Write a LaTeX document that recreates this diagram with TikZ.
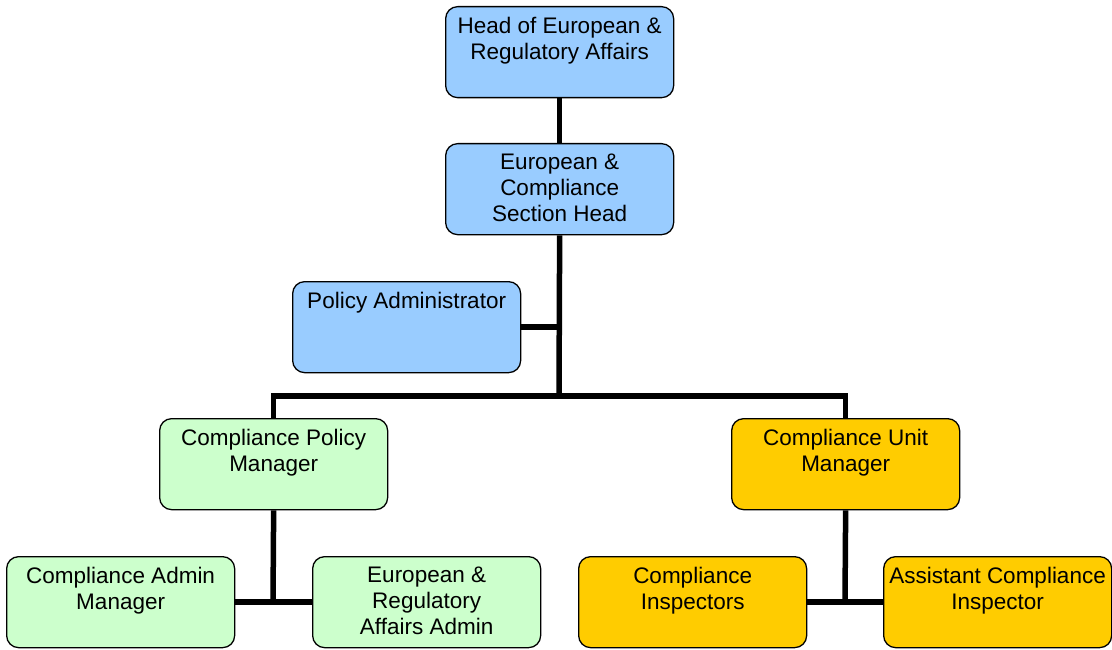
\documentclass[tikz,border=0pt]{standalone}
\usepackage{fontspec}
\setmainfont{Liberation Sans}
\definecolor{cblue}{HTML}{99CCFF}
\definecolor{cgreen}{HTML}{CCFFCC}
\definecolor{corange}{HTML}{FFCC00}
\begin{document}
\begin{tikzpicture}[x=1pt,y=-1pt,
  box/.style={draw=black,line width=1.3pt,rounded corners=12pt,minimum width=228pt,minimum height=91pt,inner sep=0pt,anchor=north west},
  lbl/.style={anchor=north,inner sep=0pt,align=center,font=\fontsize{22.5}{26}\selectfont},
  conn/.style={line width=5.5pt}]
\useasboundingbox (0,0) rectangle (1112,650);
% boxes
\node[box,fill=cblue] (head) at (445,6) {};
\node[box,fill=cblue] (sect) at (445,143) {};
\node[box,fill=cblue] (pol) at (292,281) {};
\node[box,fill=cgreen] (cpm) at (159,418) {};
\node[box,fill=corange] (cum) at (731,418) {};
\node[box,fill=cgreen] (cam) at (6,556) {};
\node[box,fill=cgreen] (era) at (312,556) {};
\node[box,fill=corange] (ci) at (578,556) {};
\node[box,fill=corange] (aci) at (883,556) {};
% labels
\node[lbl] (thead) at ([yshift=-11pt]head.north) {Head of European \&\\Regulatory Affairs};
\node[lbl] (tsect) at ([yshift=-11pt]sect.north) {European \&\\Compliance\\Section Head};
\node[lbl] (tpol) at ([yshift=-11pt]pol.north) {Policy Administrator};
\node[lbl] (tcpm) at ([yshift=-11pt]cpm.north) {Compliance Policy\\Manager};
\node[lbl] (tcum) at ([yshift=-11pt]cum.north) {Compliance Unit\\Manager};
\node[lbl] (tcam) at ([yshift=-11pt]cam.north) {Compliance Admin\\Manager};
\node[lbl] (tera) at ([yshift=-11pt]era.north) {European \&\\Regulatory\\Affairs Admin};
\node[lbl] (tci) at ([yshift=-11pt]ci.north) {Compliance\\Inspectors};
\node[lbl] (taci) at ([yshift=-11pt]aci.north) {Assistant Compliance\\Inspector};
% junctions
\coordinate (j1) at (559,396);
\coordinate (j2) at (273,602);
\coordinate (j3) at (845,602);
% connectors
\draw[conn] (head.south) -- (sect.north);
\draw[conn] (sect.south) -- (j1);
\draw[conn] (pol.east) -- (pol.east -| j1);
\draw[conn] (cpm.north) |- (j1) -| (cum.north);
\draw[conn] (cpm.south) -- (j2);
\draw[conn] (cam.east) -- (era.west);
\draw[conn] (cum.south) -- (j3);
\draw[conn] (ci.east) -- (aci.west);
\end{tikzpicture}
\end{document}
